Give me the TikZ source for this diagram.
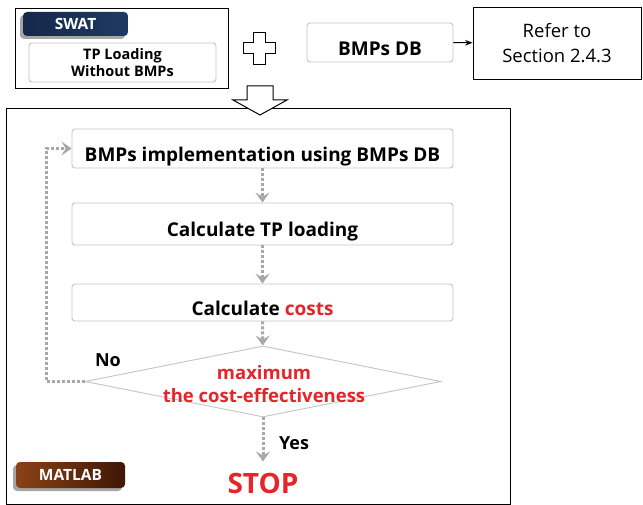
\documentclass[tikz,border=0pt]{standalone}
\usepackage{fontspec}
\setmainfont{Open Sans}
\usepackage{xcolor}
\definecolor{navy}{HTML}{1F3A62}
\definecolor{navydark}{HTML}{14284A}
\definecolor{brick}{HTML}{E5252A}
\definecolor{rust}{HTML}{8A4216}
\definecolor{rustdark}{HTML}{3E1706}
\definecolor{arrowgray}{HTML}{A8A8A8}
\definecolor{boxgray}{HTML}{C4C4C4}
\usepackage{tikz}
\usetikzlibrary{arrows.meta, shapes.geometric, positioning, calc, shadows}

\begin{document}
\begin{tikzpicture}[x=1pt, y=1pt, >=Stealth,
  frame/.style={draw=black, line width=0.9pt},
  softbox/.style={draw=boxgray, line width=0.9pt, rounded corners=3pt, fill=white},
  lowtext/.style={text height=26pt, text depth=0pt, inner ysep=0pt},
  stepbox/.style={softbox, lowtext, minimum width=381pt, minimum height=39pt,
    font=\fontsize{19}{22}\selectfont\bfseries},
  tab/.style={rounded corners=4pt, text=white, inner sep=0pt,
    font=\fontsize{15.5}{18}\selectfont\bfseries,
    drop shadow={shadow xshift=-3pt, shadow yshift=-3pt, fill=gray!70, opacity=1}},
  flow/.style={arrowgray, line width=3pt, dash pattern=on 3pt off 2pt,
    -{Stealth[length=10pt, width=14pt, inset=4pt]}},
  answer/.style={font=\fontsize{18}{20}\selectfont\bfseries}]

  \useasboundingbox (0,0) rectangle (643,-505);

  % input side
  \draw[frame] (15,-8) rectangle (228,-88);
  \node[tab, left color=navydark, right color=navy,
        minimum width=105pt, minimum height=24pt] (swat) at (75.5,-24) {SWAT};
  \node[softbox, minimum width=187pt, minimum height=39pt, align=center,
        font=\fontsize{14.5}{17}\selectfont\bfseries] (tpload) at (122.5,-62.5)
        {TP Loading\\Without BMPs};

  \draw[line width=1pt, fill=white] (259,-49) ++(-6,16) -- ++(12,0) -- ++(0,-10)
    -- ++(10,0) -- ++(0,-11) -- ++(-10,0) -- ++(0,-11) -- ++(-12,0) -- ++(0,11)
    -- ++(-10,0) -- ++(0,11) -- ++(10,0) -- cycle;

  \node[softbox, lowtext, minimum width=146pt, minimum height=39pt,
        font=\fontsize{19}{22}\selectfont\bfseries] (db) at (380,-42.5) {BMPs DB};
  \node[frame, minimum width=168pt, minimum height=72pt, align=center,
        font=\fontsize{18.5}{25}\selectfont] (refer) at (557,-43)
        {Refer to\\Section 2.4.3};
  \draw[->, line width=1pt] (db) -- (refer);

  % MATLAB part
  \draw[frame] (6,-108) rectangle (510,-504);
  \draw[line width=1pt, fill=white] (247,-86) -- (273,-86) -- (273,-100)
    -- (287,-100) -- (260,-115) -- (233,-100) -- (247,-100) -- cycle;

  \node[stepbox] (impl) at (262.5,-148.5) {BMPs implementation using BMPs DB};
  \node[stepbox, minimum height=42pt] (calctp) at (262.5,-224) {Calculate TP loading};
  \node[stepbox, minimum height=37pt] (calccost) at (262.5,-302.5)
    {Calculate \textcolor{brick}{costs}};
  \node[diamond, draw=boxgray, line width=0.9pt, fill=white, inner sep=0pt,
        minimum width=356pt, minimum height=71pt] (dec) at (263,-381.5) {};
  \node[align=center, text=brick, font=\fontsize{18.5}{23}\selectfont\bfseries]
    (dectext) at (264,-384) {maximum\\the cost-effectiveness};
  \node[text=brick, inner sep=0pt, font=\fontsize{28}{30}\selectfont\bfseries]
    (stop) at (263,-483) {STOP};

  \node[tab, left color=rust, right color=rustdark,
        minimum width=109pt, minimum height=26pt] (matlab) at (70.5,-475) {MATLAB};

  \draw[flow] (impl) -- (calctp);
  \draw[flow] (calctp) -- (calccost);
  \draw[flow] (calccost) -- (dec);
  \draw[flow, shorten >=11pt] (dec) -- (stop);
  \draw[flow] (dec.west) -- ++(-38,0) |- (impl.west);

  \node[answer] (no) at (108,-360) {No};
  \node[answer] (yes) at (294,-443) {Yes};

\end{tikzpicture}
\end{document}
